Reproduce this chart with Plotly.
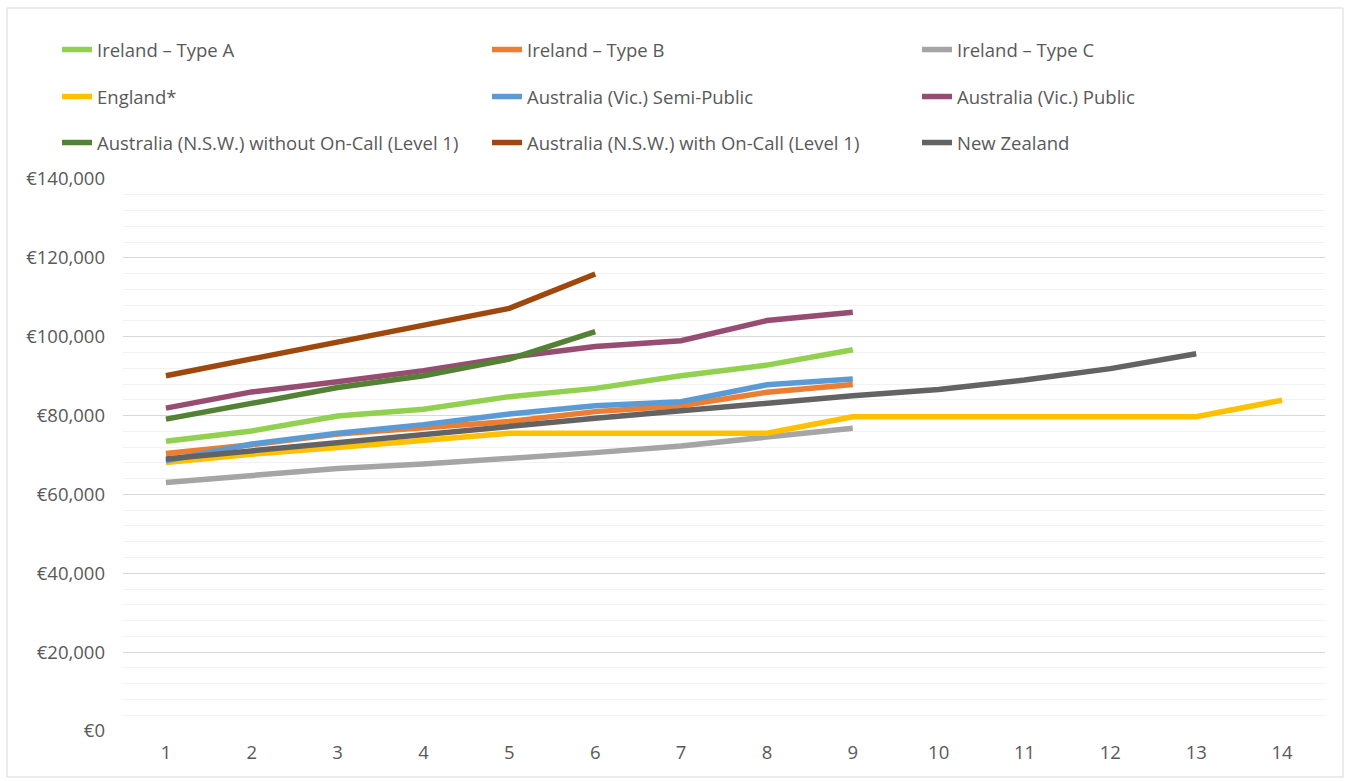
import plotly.graph_objects as go

years = [1, 2, 3, 4, 5, 6, 7, 8, 9, 10, 11, 12, 13, 14]

ireland_a = [73500, 76100, 79900, 81600, 84800, 86900, 90100, 92800, 96700]
ireland_b = [70400, 72600, 75300, 77000, 78500, 81000, 82500, 85900, 87900]
ireland_c = [63000, 64700, 66600, 67700, 69000, 70600, 72300, 74500, 76800]
england = [68100, 70200, 71900, 73600, 75500, 75500, 75500, 75500, 79700, 79700, 79700, 79700, 79700, 83900]
vic_semi = [68500, 72800, 75500, 77700, 80400, 82500, 83500, 87800, 89300]
vic_public = [81900, 86000, 88600, 91400, 94800, 97500, 99000, 104100, 106200]
nsw_without = [79100, 83100, 87100, 90100, 94300, 101300]
nsw_with = [90100, 94300, 98600, 102800, 107200, 115900]
new_zealand = [69000, 71100, 73200, 75300, 77200, 79300, 81200, 83200, 85000, 86600, 89000, 91900, 95700]

series = [
    ("Ireland \u2013 Type A", ireland_a, "#92D050", "legend"),
    ("Ireland \u2013 Type B", ireland_b, "#ED7D31", "legend"),
    ("Ireland \u2013 Type C", ireland_c, "#A5A5A5", "legend"),
    ("England*", england, "#FFC000", "legend2"),
    ("Australia (Vic.) Semi-Public", vic_semi, "#5B9BD5", "legend2"),
    ("Australia (Vic.) Public", vic_public, "#974C72", "legend2"),
    ("Australia (N.S.W.) without On-Call (Level 1)", nsw_without, "#548235", "legend3"),
    ("Australia (N.S.W.) with On-Call (Level 1)", nsw_with, "#9E480E", "legend3"),
    ("New Zealand", new_zealand, "#636363", "legend3"),
]

FONT = "Open Sans"
TXT = "#595959"
FS = 18.5

fig = go.Figure()
for name, vals, color, lg in series:
    fig.add_trace(go.Scatter(
        x=years[:len(vals)], y=vals, mode="lines", name=name,
        line=dict(color=color, width=5.5), legend=lg,
    ))

W, H = 1354, 781
L, R, T, B = 123, 29, 179, 50
pw, ph = W - L - R, H - T - B

def px_x(p):
    return (p - L) / pw

def px_y(p):
    return (H - B - p) / ph

leg_common = dict(orientation="h", xanchor="left", yanchor="middle",
                  entrywidth=385, entrywidthmode="pixels",
                  font=dict(family=FONT, size=FS, color=TXT),
                  bgcolor="rgba(0,0,0,0)", traceorder="normal")

fig.update_layout(
    width=W, height=H,
    margin=dict(l=L, r=R, t=T, b=B),
    paper_bgcolor="white", plot_bgcolor="white",
    font=dict(family=FONT, size=FS, color=TXT),
    legend=dict(x=px_x(57), y=px_y(50), **leg_common),
    legend2=dict(x=px_x(57), y=px_y(97), **leg_common),
    legend3=dict(x=px_x(57), y=px_y(143), **leg_common),
    xaxis=dict(
        type="linear", range=[0.5, 14.5], tickmode="array", tickvals=years,
        ticktext=[str(y) for y in years], showgrid=False, zeroline=False,
        showline=False, ticks="", ticklabelstandoff=8,
        tickfont=dict(family=FONT, size=FS, color=TXT),
    ),
    yaxis=dict(
        range=[0, 140000], dtick=20000, tickprefix="\u20ac", tickformat=",d",
        showgrid=True, gridcolor="#D9D9D9", gridwidth=1, zeroline=False,
        showline=False, ticks="", ticklabelstandoff=17,
        minor=dict(dtick=4000, showgrid=True, gridcolor="#F2F2F2", gridwidth=1),
        tickfont=dict(family=FONT, size=FS, color=TXT),
    ),
    shapes=[dict(type="rect", xref="paper", yref="paper",
                 x0=px_x(7), x1=px_x(1343), y0=px_y(777), y1=px_y(8),
                 line=dict(color="#D9D9D9", width=1), layer="below")],
)

fig.write_html("out.html")
